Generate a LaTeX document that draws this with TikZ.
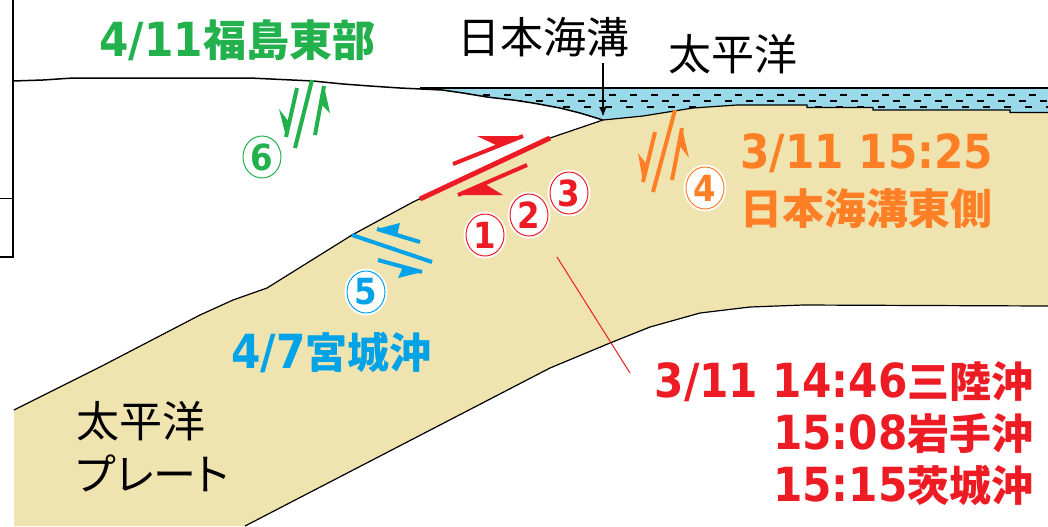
\documentclass[tikz,border=0pt]{standalone}
\usepackage{fontspec}
\usetikzlibrary{arrows.meta,shapes.geometric}
\newfontfamily\jp{Noto Sans CJK JP}
\newfontfamily\jpk[RawFeature=+palt]{Noto Sans CJK JP}
\newfontfamily\lat{DejaVu Sans Condensed}
\definecolor{platefill}{HTML}{EFE4B0}
\definecolor{seafill}{HTML}{99D9EA}
\definecolor{qgreen}{HTML}{22B14C}
\definecolor{qred}{HTML}{ED1C24}
\definecolor{qorange}{HTML}{FF7F27}
\definecolor{qblue}{HTML}{00A2E8}

% Latin and kanji parts of the coloured labels
\newcommand\dt[1]{{\lat\fontsize{23.5pt}{26pt}\selectfont #1}}
\newcommand\kj[2][21pt]{{\jp\fontsize{#1}{26pt}\selectfont #2}}

% half arrow: colour, shaft end, tip, barb end, barb root on the shaft
\newcommand\slipharpoon[5]{%
  \draw[#1,line width=2pt] #2 -- #3;
  \fill[#1] #3 -- #4 -- #5 -- cycle;}

\newcommand\seapath{(420,88) -- (1048,88) -- (1048,112.5) -- (1010,112.5) -- (1010,110) -- (873,110) -- (873,107.5) -- (807,107.5) -- (807,105) -- (737,105) -- (693,108) -- (643,116) -- (603,120) -- (580,113) -- (560,108) -- (533,103) -- (513,100) -- (487,97) -- (463,93) -- (442,90) -- cycle}

\newcommand\platepath{(14,410) -- (100,367) -- (200,315) -- (233,300) -- (267,288) -- (352,235) -- (413,202) -- (550,138) -- (603,120) -- (643,116) -- (693,108) -- (737,105) -- (807,105) -- (807,107.5) -- (873,107.5) -- (873,110) -- (1010,110) -- (1010,112.5) -- (1048,112.5) -- (1048,306) -- (803,305) -- (750,307) -- (700,313) -- (650,327) -- (610,343) -- (550,368) -- (245,526) -- (14,526) -- cycle}

\begin{document}
\begin{tikzpicture}[x=0.5pt,y=-0.5pt,
  edge/.style={black,line width=0.6pt},
  lbl/.style={inner sep=0pt,font=\bfseries},
  blk/.style={inner sep=0pt,font=\jp\fontsize{21.5pt}{24pt}\selectfont},
  cnum/.style={ellipse,minimum width=19pt,minimum height=21pt,inner sep=0pt,
    fill=white,line width=0.5pt,preaction={draw=white,line width=2.4pt},
    font=\lat\bfseries\fontsize{18pt}{18pt}\selectfont},
  dashrow/.style={black,line width=1pt,dash pattern=on 3.5pt off 7pt}]
\useasboundingbox (0,0) rectangle (1048,526);

% plates and sea
\fill[platefill] \platepath;
\fill[seafill] \seapath;
\begin{scope}
  \clip \seapath;
  \draw[dashrow,dash phase=0pt]   (420,94.5) -- (1048,94.5);
  \draw[dashrow,dash phase=5pt]   (420,101) -- (1048,101);
  \draw[dashrow,dash phase=2pt]   (420,107) -- (1048,107);
\end{scope}

% frame remnants at the left
\draw[black,line width=1pt] (13,0) -- (13,257) -- (0,257);
\draw[black,line width=0.5pt] (0,198) -- (13,198);

% surfaces and plate boundaries
\draw[edge,line width=0.75pt] (13,81) -- (43,80) -- (73,78) -- (250,78) -- (313,81) -- (343,84) -- (370,86) -- (400,88) -- (442,90)
  -- (463,93) -- (487,97) -- (513,100) -- (533,103) -- (560,108) -- (580,113) -- (603,120);
\draw[edge,line width=0.75pt] (420,88) -- (1048,88);
\draw[edge] (14,410) -- (100,367) -- (200,315) -- (233,300) -- (267,288) -- (352,235) -- (413,202) -- (550,138) -- (603,120)
  -- (643,116) -- (693,108) -- (737,105) -- (807,105) -- (807,107.5) -- (873,107.5) -- (873,110) -- (1010,110) -- (1010,112.5) -- (1048,112.5);
\draw[edge] (245,526) -- (550,368) -- (610,343) -- (650,327) -- (700,313) -- (750,307) -- (803,305) -- (1048,306);

% rupture on the plate interface
\draw[qred,line width=2.5pt] (420,199) -- (550,138);

% slip arrows
\slipharpoon{qred}{(453,164)}{(523,136)}{(477,136)}{(498,146)}
\slipharpoon{qred}{(527,165)}{(458,195)}{(503,195)}{(485,184)}

\draw[qgreen,line width=2pt] (312,80) -- (295,148);
\slipharpoon{qgreen}{(297,88)}{(286,137)}{(279,109)}{(289,122)}
\slipharpoon{qgreen}{(315,135)}{(324,86)}{(330,113)}{(320,103)}

\draw[qorange,line width=2pt] (675,110) -- (653,192);
\slipharpoon{qorange}{(655,132)}{(643,182)}{(638,153)}{(647,165)}
\slipharpoon{qorange}{(672,180)}{(682,128)}{(689,158)}{(679,145)}

\draw[qblue,line width=2pt] (352,235) -- (432,262);
\slipharpoon{qblue}{(420,242)}{(377,229)}{(400,223)}{(397,235)}
\slipharpoon{qblue}{(378,260)}{(422,272)}{(398,278)}{(403,267)}

% circled event numbers
\node[cnum,draw=qgreen,text=qgreen]   (n6) at (262,157) {6};
\node[cnum,draw=qblue,text=qblue]     (n5) at (366,292) {5};
\node[cnum,draw=qred,text=qred]       (n1) at (485,235) {1};
\node[cnum,draw=qred,text=qred]       (n2) at (529,215) {2};
\node[cnum,draw=qred,text=qred]       (n3) at (569,193) {3};
\node[cnum,draw=qorange,text=qorange] (n4) at (705,188) {4};

% black labels
\node[blk] (trenchlbl) at (543,37) {日本海溝};
\node[blk] (oceanlbl) at (733,54) {太平洋};
\node[blk,anchor=west] (platelbl1) at (76,421) {太平洋};
\node[blk,anchor=west,font=\jpk\fontsize{21.5pt}{24pt}\selectfont] (platelbl2) at (76,473) {プレート};

\coordinate (arrowtop) at (603,63);
\coordinate (trench) at (603,117);
\draw[black,line width=1pt,-{Latex[length=5pt,width=4pt]}] (arrowtop) -- (trench);

% coloured event labels
\node[lbl,qgreen,anchor=base west] (fukushima) at (99,56) {\dt{4/11}\kj[21.5pt]{福島東部}};
\node[lbl,qblue,anchor=base west] (miyagi) at (231,368) {\dt{4/7}\kj{宮城沖}};
\node[lbl,qorange,anchor=base west] (east1) at (740,168) {\dt{3/11 15:25}};
\node[lbl,qorange,anchor=base west] (east2) at (740,224) {\kj{日本海溝東側}};
\node[lbl,qred,anchor=base east] (main1) at (1034,397) {\dt{3/11 14:46}\kj{三陸沖}};
\node[lbl,qred,anchor=base east] (main2) at (1034,449) {\dt{15:08}\kj{岩手沖}};
\node[lbl,qred,anchor=base east] (main3) at (1034,501) {\dt{15:15}\kj{茨城沖}};

\coordinate (leaderfoot) at (557,257);
\coordinate (leaderhead) at (630,373);
\draw[qred,line width=0.5pt] (leaderfoot) -- (leaderhead);
\end{tikzpicture}
\end{document}
